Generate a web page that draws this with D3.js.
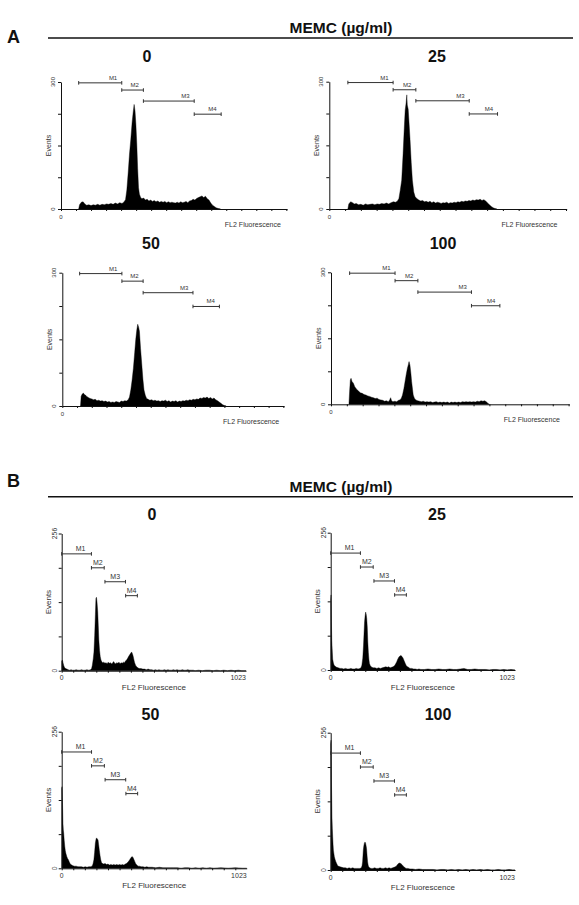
<!DOCTYPE html>
<html><head><meta charset="utf-8">
<script src="https://cdn.jsdelivr.net/npm/d3@7"></script>
<style>body{margin:0;background:#fff}svg{display:block}</style>
</head><body><svg id="c" width="579" height="905"></svg>
<script>
// ---------------- DATA ----------------
const groupLabels = ["A", "B"];
const headerText = "MEMC (µg/ml)";
const doseTitles = ["0", "25", "50", "100"];
const xLabel = "FL2 Fluorescence";
const yLabel = "Events";
const yMaxA = 300, yMaxB = 256;
const yTicksA = [0, 75, 150, 225, 300];
const yTicksB = [0, 64, 128, 192, 256];
const yTickLabelsA = ["0", "300"];
const yTickLabelsB = ["0", "256"];
const xTickLabelsB = ["0", "1023"];
const xTickLabelsA = ["0"];
// markers: [name, startChannel, endChannel, level]
const markersA = [["M1", 80, 275, 298], ["M2", 275, 373, 281], ["M3", 373, 603, 255], ["M4", 603, 725, 224]];
const markersB = [["M1", 0, 165, 218], ["M2", 165, 236, 192], ["M3", 240, 354, 166], ["M4", 355, 420, 140]];

// histograms: [channel, events]
const histA0 = [[80,0],[84,10],[92,16],[100,17],[108,12],[116,9],[126,10],[136,8],[146,10],[156,9],[166,11],[176,9],[186,11],[196,10],[206,12],[216,11],[226,13],[236,11],[246,14],[256,12],[266,15],[276,13],[284,16],[292,22],[298,45],[304,85],[310,130],[316,165],[322,205],[327,230],[331,247],[335,232],[339,200],[343,155],[347,95],[351,50],[355,35],[360,28],[366,24],[374,26],[382,21],[390,23],[398,19],[406,21],[414,18],[422,20],[430,17],[438,19],[446,16],[454,18],[462,16],[470,18],[478,15],[486,17],[494,15],[502,16],[510,15],[518,14],[526,16],[534,14],[542,17],[550,15],[558,16],[566,18],[574,15],[582,19],[590,20],[598,23],[606,21],[614,25],[622,27],[630,29],[638,31],[646,27],[654,30],[662,24],[670,21],[678,14],[686,9],[694,6],[702,3],[712,1],[722,0]];
const histA25 = [[80,0],[84,12],[92,17],[100,15],[108,12],[116,13],[126,10],[136,11],[146,9],[156,12],[166,10],[176,11],[186,12],[196,10],[206,12],[216,11],[226,13],[236,12],[246,14],[256,12],[266,15],[276,17],[286,16],[294,19],[300,25],[306,45],[312,68],[318,130],[323,190],[327,233],[331,250],[334,269],[336,245],[340,235],[344,200],[348,163],[353,110],[358,68],[364,40],[370,29],[378,24],[386,21],[394,19],[402,20],[410,17],[418,18],[426,16],[434,18],[442,15],[450,17],[458,14],[466,16],[474,15],[482,13],[490,15],[498,14],[506,16],[514,13],[522,15],[530,14],[538,16],[546,15],[554,17],[562,16],[570,18],[578,17],[586,19],[594,18],[602,20],[610,19],[618,21],[626,20],[634,22],[642,21],[650,23],[658,20],[666,22],[674,19],[682,14],[690,10],[698,6],[706,3],[714,1],[722,0]];
const histA50 = [[84,0],[87,22],[92,27],[97,29],[102,26],[108,24],[114,21],[120,19],[128,17],[136,16],[144,14],[152,15],[160,12],[168,13],[176,11],[184,12],[192,10],[200,11],[208,9],[216,10],[224,8],[232,9],[240,8],[248,10],[256,9],[264,8],[272,11],[280,10],[288,12],[296,11],[304,14],[310,20],[316,36],[322,58],[328,85],[334,120],[339,150],[344,172],[348,184],[352,178],[356,168],[361,130],[367,92],[372,60],[377,36],[383,24],[389,17],[396,15],[404,13],[412,14],[420,12],[428,13],[436,11],[444,12],[452,10],[460,12],[468,11],[476,13],[484,10],[492,12],[500,9],[508,11],[516,10],[524,12],[532,9],[540,11],[548,10],[556,12],[564,11],[572,13],[580,12],[588,14],[596,13],[604,15],[612,14],[620,16],[628,15],[636,18],[644,17],[652,19],[660,18],[668,20],[676,17],[684,19],[692,16],[700,18],[708,14],[716,12],[724,9],[732,6],[740,3],[748,1],[756,0]];
const histA100 = [[77,0],[80,30],[83,55],[86,59],[90,52],[96,48],[102,40],[110,34],[118,30],[126,26],[134,25],[142,22],[150,21],[158,19],[166,18],[174,16],[182,15],[190,13],[198,14],[206,11],[214,10],[222,9],[230,7],[238,8],[246,6],[252,10],[256,15],[260,8],[266,6],[274,7],[282,6],[290,9],[296,10],[302,14],[307,21],[313,36],[318,52],[323,68],[328,82],[332,90],[335,97],[339,89],[343,70],[346,52],[350,34],[353,21],[358,14],[364,10],[372,8],[380,7],[388,6],[396,7],[404,5],[412,6],[420,5],[428,6],[436,4],[444,5],[452,6],[460,4],[468,5],[476,4],[484,5],[492,4],[500,5],[508,3],[516,5],[524,4],[532,5],[540,4],[548,5],[556,4],[564,6],[572,5],[580,6],[588,5],[596,6],[604,5],[612,6],[620,5],[628,7],[636,6],[644,8],[652,7],[660,8],[668,5],[674,2],[680,0]];
const histB0 = [[0,18],[4,20],[8,14],[12,9],[16,6],[22,4],[28,3],[36,2],[44,1],[52,2],[60,1],[70,1],[80,2],[90,1],[100,1],[110,2],[120,1],[130,1],[140,2],[150,1],[160,2],[166,4],[170,10],[175,22],[179,35],[183,65],[187,105],[190,135],[193,137],[196,128],[200,110],[203,85],[206,58],[210,38],[214,26],[218,20],[222,17],[228,15],[234,16],[240,14],[246,15],[252,13],[258,16],[264,14],[270,15],[276,13],[282,14],[288,17],[294,14],[300,13],[306,15],[312,14],[318,16],[324,13],[330,15],[336,14],[342,16],[348,15],[354,18],[360,20],[366,23],[372,27],[378,30],[384,33],[388,35],[392,32],[396,28],[400,22],[404,16],[408,12],[412,9],[418,7],[424,5],[432,4],[440,4],[450,3],[460,3],[470,2],[480,3],[490,2],[500,2],[510,1],[520,2],[530,1],[540,2],[550,1],[560,1],[570,2],[580,1],[590,2],[600,1],[610,1],[620,2],[630,1],[640,2],[650,1],[660,1],[670,2],[680,1],[690,1],[700,2],[710,1],[720,1],[730,1],[740,0],[760,1],[780,0],[800,1],[820,1],[840,0],[860,1],[880,0],[900,1],[920,0],[940,1],[960,0],[980,1],[1000,0],[1023,0]];
const histB25 = [[0,130],[2,140],[4,90],[6,55],[8,40],[11,20],[15,13],[19,9],[25,7],[33,5],[42,4],[52,3],[62,3],[72,2],[82,3],[92,2],[102,2],[112,3],[122,2],[132,2],[142,3],[152,2],[162,3],[168,4],[173,9],[178,22],[182,45],[185,68],[188,90],[191,101],[194,108],[197,104],[200,96],[203,80],[206,52],[209,33],[212,20],[215,12],[220,8],[228,5],[236,4],[246,4],[256,3],[266,4],[276,3],[286,4],[296,5],[306,6],[314,5],[322,6],[330,4],[338,5],[346,6],[354,8],[360,11],[366,15],[372,20],[378,24],[384,26],[390,27],[396,25],[402,22],[408,17],[414,12],[420,8],[426,6],[432,5],[440,3],[450,3],[460,2],[470,2],[480,1],[490,2],[500,1],[520,1],[540,2],[560,1],[580,1],[600,2],[620,1],[640,1],[660,2],[680,1],[700,1],[720,2],[740,3],[750,2],[760,1],[780,1],[800,2],[820,1],[840,1],[860,1],[880,0],[900,1],[920,1],[940,0],[960,1],[980,0],[1000,1],[1023,0]];
const histB50 = [[0,150],[2,153],[4,128],[7,84],[9,72],[11,66],[14,52],[17,41],[20,33],[23,28],[28,22],[33,18],[37,16],[42,12],[46,9],[51,7],[55,6],[62,5],[70,4],[80,4],[90,3],[100,3],[110,3],[120,2],[130,3],[140,2],[150,3],[160,3],[168,4],[173,8],[178,16],[182,30],[186,47],[190,55],[193,57],[197,55],[201,53],[204,45],[208,34],[212,24],[216,16],[220,11],[226,9],[232,8],[240,9],[248,7],[256,8],[264,6],[272,7],[280,6],[288,7],[296,6],[304,7],[312,6],[320,7],[328,6],[336,7],[344,6],[352,8],[358,9],[364,11],[370,13],[376,16],[381,19],[386,21],[390,22],[395,20],[400,16],[405,12],[410,8],[416,6],[422,4],[430,4],[440,3],[450,3],[460,2],[470,3],[480,2],[490,2],[500,2],[520,1],[540,2],[560,1],[580,1],[600,1],[620,1],[640,1],[660,0],[680,1],[700,1],[720,0],[740,1],[760,0],[780,1],[800,0],[820,1],[840,0],[880,1],[920,0],[960,1],[1000,0],[1023,0]];
const histB100 = [[0,235],[2,242],[4,168],[6,125],[7,99],[9,78],[11,62],[13,48],[15,37],[18,30],[20,25],[24,20],[28,16],[33,12],[37,9],[44,7],[52,6],[62,5],[72,4],[82,4],[92,3],[102,4],[112,3],[122,4],[132,3],[142,3],[152,3],[162,3],[170,4],[174,8],[177,15],[181,37],[184,45],[187,50],[190,52],[193,51],[196,46],[199,40],[202,26],[205,15],[208,9],[211,6],[216,4],[224,3],[234,3],[244,4],[254,3],[264,3],[274,4],[284,3],[294,3],[304,4],[314,3],[324,4],[334,3],[344,4],[352,5],[358,6],[364,7],[370,10],[376,12],[382,13],[389,12],[396,10],[403,7],[410,5],[418,3],[428,3],[440,2],[455,2],[470,1],[490,2],[510,1],[530,1],[550,1],[570,1],[590,0],[610,1],[630,1],[650,0],[670,1],[690,0],[710,1],[730,0],[750,1],[770,0],[790,1],[810,0],[830,1],[850,0],[870,1],[890,0],[910,0],[930,1],[950,0],[970,0],[990,1],[1010,0],[1023,0]];

// ---------------- LAYOUT ----------------
const FONT = "'Liberation Sans', Arial, Helvetica, sans-serif";
const svg = d3.select("#c");
const INK = "#111", GREY = "#333";

const groups = [
  { label: groupLabels[0], labelY: 43, lineY: 38, headerY: 33, yMax: yMaxA, yTicks: yTicksA,
    yTickLabels: yTickLabelsA, xTickLabels: xTickLabelsA, markers: markersA, xTickStep: 68,
    panels: [
      { title: doseTitles[0], data: histA0, x0: 61, x1: 287, yt: 82, yb: 209, tx: 147, ty: 62 },
      { title: doseTitles[1], data: histA25, x0: 329.3, x1: 566.7, yt: 81.7, yb: 209, tx: 437, ty: 62 },
      { title: doseTitles[2], data: histA50, x0: 62.3, x1: 284, yt: 272.7, yb: 406, tx: 151, ty: 248.5 },
      { title: doseTitles[3], data: histA100, x0: 331, x1: 569.3, yt: 272.3, yb: 404.3, tx: 443, ty: 248.5 }
    ], style: "A" },
  { label: groupLabels[1], labelY: 487, lineY: 496.7, headerY: 491.5, yMax: yMaxB, yTicks: yTicksB,
    yTickLabels: yTickLabelsB, xTickLabels: xTickLabelsB, markers: markersB, xTickStep: 64,
    panels: [
      { title: doseTitles[0], data: histB0, x0: 61.7, x1: 246, yt: 533.5, yb: 670.7, tx: 152, ty: 519.5 },
      { title: doseTitles[1], data: histB25, x0: 330.7, x1: 515, yt: 532.7, yb: 670, tx: 437, ty: 519.5 },
      { title: doseTitles[2], data: histB50, x0: 61.7, x1: 246.7, yt: 731.7, yb: 868.3, tx: 150.5, ty: 719.5 },
      { title: doseTitles[3], data: histB100, x0: 330.7, x1: 515, yt: 732.7, yb: 870, tx: 438, ty: 719.5 }
    ], style: "B" }
];

groups.forEach(g => {
  svg.append("text").attr("x", 7).attr("y", g.labelY).text(g.label)
    .attr("font-family", FONT).attr("font-weight", "bold").attr("font-size", 18).attr("fill", INK);
  svg.append("line").attr("x1", 48).attr("x2", 573).attr("y1", g.lineY).attr("y2", g.lineY)
    .attr("stroke", INK).attr("stroke-width", 1.6);
  svg.append("text").attr("x", 341).attr("y", g.headerY).attr("text-anchor", "middle").text(headerText)
    .attr("font-family", FONT).attr("font-weight", "bold").attr("font-size", 15.5).attr("fill", INK);

  const isA = g.style === "A";
  g.panels.forEach(p => {
    const x = d3.scaleLinear().domain([0, 1023]).range([p.x0, p.x1]);
    const y = d3.scaleLinear().domain([0, g.yMax]).range([p.yb, p.yt]);
    const gp = svg.append("g");

    gp.append("text").attr("x", p.tx).attr("y", p.ty).attr("text-anchor", "middle").text(p.title)
      .attr("font-family", FONT).attr("font-weight", "bold").attr("font-size", 16).attr("fill", INK);

    // histogram
    const area = d3.area().x(d => x(d[0])).y0(p.yb).y1(d => y(d[1])).curve(d3.curveLinear);
    gp.append("path").datum(p.data).attr("d", area).attr("fill", "#000").attr("stroke", "#000").attr("stroke-width", 0.4);

    // axes
    const ya = d3.axisLeft(y).tickValues(g.yTicks).tickSize(3).tickSizeOuter(0).tickFormat("");
    const yg = gp.append("g").attr("transform", `translate(${p.x0},0)`).call(ya);
    const xa = d3.axisBottom(x).tickValues(d3.range(0, 1024, g.xTickStep)).tickSize(2).tickSizeOuter(0).tickFormat("");
    const xg = gp.append("g").attr("transform", `translate(0,${p.yb})`).call(xa);
    [yg, xg].forEach(a => { a.selectAll("path,line").attr("stroke", INK).attr("stroke-width", 1); });

    const fs = isA ? 6 : 6.8;
    // rotated y tick labels
    [[0, g.yTickLabels[0]], [g.yMax, g.yTickLabels[1]]].forEach(([v, t]) => {
      gp.append("text").attr("transform", `translate(${p.x0 - (isA ? 6 : 4.5)},${y(v)}) rotate(-90)`)
        .attr("text-anchor", "middle").text(t)
        .attr("font-family", FONT).attr("font-size", fs).attr("fill", GREY);
    });
    // y title
    gp.append("text").attr("transform", `translate(${p.x0 - 10.5},${(p.yt + p.yb) / 2}) rotate(-90)`)
      .attr("text-anchor", "middle").text(yLabel)
      .attr("font-family", FONT).attr("font-size", isA ? 7 : 8).attr("fill", GREY);
    // x tick labels
    gp.append("text").attr("x", x(0)).attr("y", p.yb + 9.5).attr("text-anchor", "middle").text(g.xTickLabels[0])
      .attr("font-family", FONT).attr("font-size", fs).attr("fill", GREY);
    if (g.xTickLabels[1]) {
      gp.append("text").attr("x", x(1023)).attr("y", p.yb + 9.5).attr("text-anchor", "end").text(g.xTickLabels[1])
        .attr("font-family", FONT).attr("font-size", 7).attr("fill", GREY);
    }
    // x title
    if (isA) {
      gp.append("text").attr("x", p.x0 + 0.725 * (p.x1 - p.x0)).attr("y", p.yb + 18)
        .text(xLabel).attr("font-family", FONT).attr("font-size", 7).attr("fill", GREY);
    } else {
      gp.append("text").attr("x", (p.x0 + p.x1) / 2).attr("y", p.yb + 19.5).attr("text-anchor", "middle")
        .text(xLabel).attr("font-family", FONT).attr("font-size", 8).attr("fill", GREY);
    }

    // markers
    g.markers.forEach(([name, s, e, lv], i) => {
      const yy = y(lv), xs = x(s), xe = x(e);
      const mg = gp.append("g").attr("stroke", GREY).attr("stroke-width", 1);
      mg.append("line").attr("x1", xs).attr("x2", xe).attr("y1", yy).attr("y2", yy);
      mg.append("line").attr("x1", xs).attr("x2", xs).attr("y1", yy - 1.8).attr("y2", yy + 1.8);
      mg.append("line").attr("x1", xe).attr("x2", xe).attr("y1", yy - 1.8).attr("y2", yy + 1.8);
      const lx = isA ? xe - 8.7 : (xs + xe) / 2 + (i === 0 ? 4 : 0);
      gp.append("text").attr("x", lx).attr("y", yy - 3).attr("text-anchor", "middle").text(name)
        .attr("font-family", FONT).attr("font-size", isA ? 6 : 7).attr("fill", GREY);
    });
  });
});
</script></body></html>
